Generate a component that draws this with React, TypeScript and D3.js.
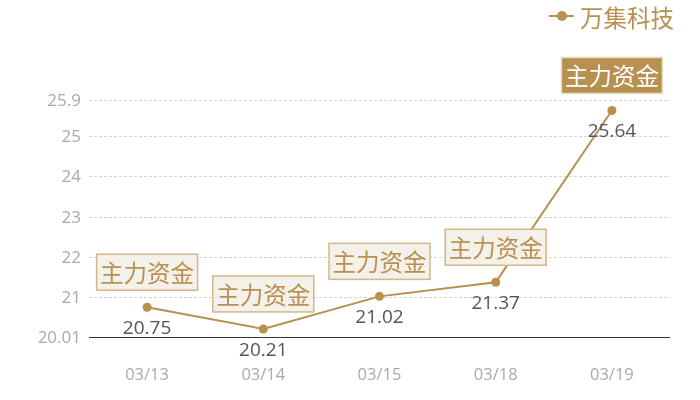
import * as d3 from "d3";
import React from "react";

const dates = ["03/13", "03/14", "03/15", "03/18", "03/19"];
const prices = [20.75, 20.21, 21.02, 21.37, 25.64];
const yTicks = [20.01, 21, 22, 23, 24, 25, 25.9];
const seriesName = "万集科技";
const markLabel = "主力资金";

const GOLD = "#b8904f";

export default function App() {
  const width = 700, height = 400;
  const margin = { top: 100, right: 30, bottom: 63, left: 89 };

  const x = d3.scaleBand<string>().domain(dates).range([margin.left, width - margin.right]);
  const y = d3.scaleLinear().domain([20.01, 25.9]).range([height - margin.bottom, margin.top]);
  const cx = (d: string) => x(d)! + x.bandwidth() / 2;

  const line = d3.line<number>()
    .x((_, i) => cx(dates[i]))
    .y(d => y(d));

  const cjk = "'Noto Sans CJK SC', 'Noto Sans', sans-serif";
  const num = "'Open Sans', 'Noto Sans', sans-serif";
  const boxW = 101, boxH = 36;

  return (
    <div style={{ position: "fixed", left: 0, top: 0 }}>
      <svg width={width} height={height} style={{ display: "block", fontFamily: cjk }}>
        {/* grid */}
        {yTicks.map(t => (
          <g key={t}>
            {t !== 20.01 && (
              <line x1={margin.left} x2={width - margin.right} y1={Math.round(y(t)) + 0.5} y2={Math.round(y(t)) + 0.5}
                stroke="#d4d4d4" strokeDasharray="3,2" strokeWidth={1} />
            )}
            <text x={81} y={y(t) + 6} textAnchor="end" fontFamily={num}
              fill="#aaaaaa" fontSize={17}>{t}</text>
          </g>
        ))}
        <line x1={margin.left} x2={width - margin.right} y1={y(20.01) + 0.5} y2={y(20.01) + 0.5}
          stroke="#333" strokeWidth={1} />
        {dates.map(d => (
          <text key={d} x={cx(d)} y={379.5} textAnchor="middle" fontFamily={num}
            fill="#aaaaaa" fontSize={16.5}>{d}</text>
        ))}

        <path d={line(prices)!} fill="none" stroke={GOLD} strokeWidth={2} />

        {prices.map((v, i) => {
          const px = cx(dates[i]);
          const py = y(v);
          const last = i === prices.length - 1;
          return (
            <g key={i}>
              <circle cx={px} cy={py} r={4.5} fill={GOLD} />
              <text x={px} y={py + 27} textAnchor="middle" fontFamily={num}
                fill="#555" fontSize={19}>{v.toFixed(2)}</text>
              <rect x={px - boxW / 2} y={py - 17 - boxH} width={boxW} height={boxH}
                fill={last ? GOLD : "#f4f0ea"} stroke={last ? "#e8dcc6" : "#d2b888"} strokeWidth={1.5} />
              <text x={px} y={py - 17 - boxH / 2} textAnchor="middle" dominantBaseline="central"
                fill={last ? "#fff" : GOLD} fontSize={23.5}>{markLabel}</text>
            </g>
          );
        })}

        {/* legend */}
        <line x1={549} x2={574} y1={16} y2={16} stroke={GOLD} strokeWidth={2} />
        <circle cx={562} cy={16} r={5} fill={GOLD} />
        <text x={580} y={17} dominantBaseline="central" fill={GOLD} fontSize={23.5}>{seriesName}</text>
      </svg>
    </div>
  );
}
